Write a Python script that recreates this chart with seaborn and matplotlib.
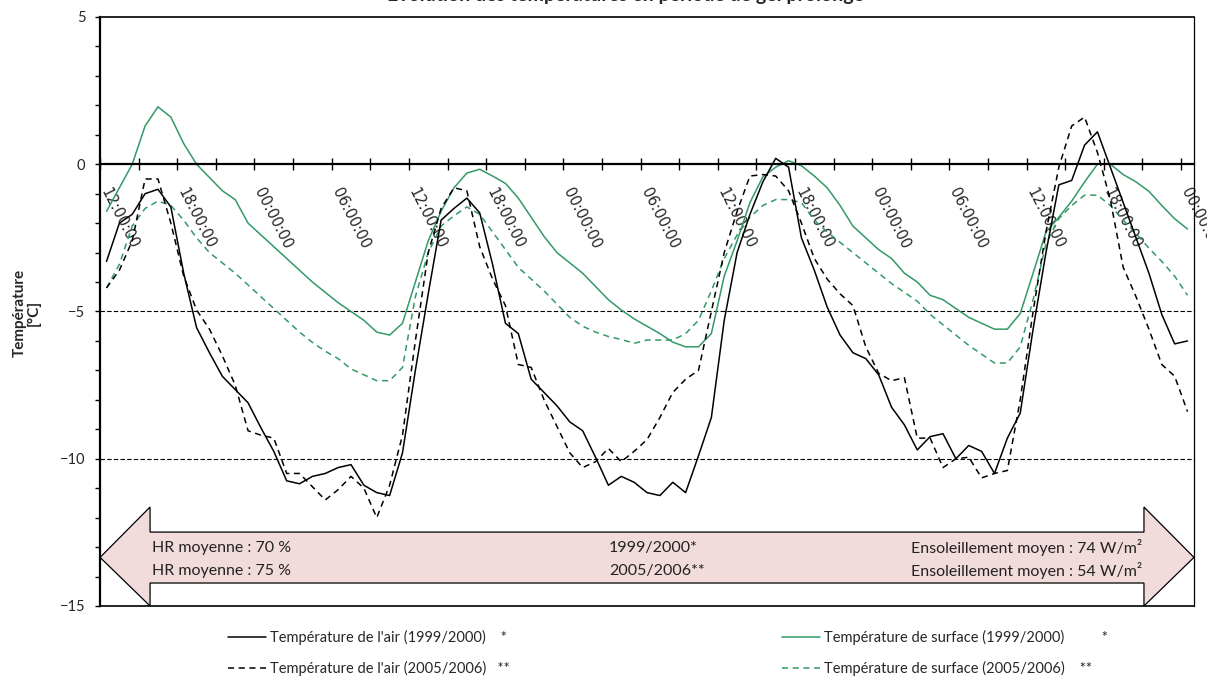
import numpy as np
import pandas as pd
import matplotlib
matplotlib.use("Agg")
import matplotlib.pyplot as plt
import matplotlib.transforms as mtransforms
from matplotlib.patches import Polygon
from matplotlib import font_manager
import seaborn as sns

# ---------------- data (hourly, starting 12:00:00) ----------------
air_1999 = [-3.3, -2.0, -1.7, -1.0, -0.85, -1.45, -3.7, -5.55, -6.4, -7.2,
            -7.65, -8.1, -8.95, -9.75, -10.75, -10.85, -10.6, -10.5, -10.3, -10.2,
            -10.9, -11.15, -11.25, -9.8, -7.0, -4.4, -1.9, -1.5, -1.15, -1.65,
            -3.4, -5.4, -5.75, -7.3, -7.75, -8.2, -8.75, -9.05, -9.95, -10.9,
            -10.6, -10.8, -11.15, -11.25, -10.8, -11.15, -9.9, -8.6, -5.3, -3.0,
            -1.7, -0.6, 0.2, -0.1, -2.5, -3.6, -4.85, -5.8, -6.4, -6.6,
            -7.15, -8.25, -8.85, -9.7, -9.25, -9.15, -10.0, -9.55, -9.75, -10.5,
            -9.3, -8.45, -5.6, -3.0, -0.7, -0.55, 0.65, 1.1, -0.1, -1.3,
            -2.5, -3.7, -5.1, -6.1, -6.0]
air_2005 = [-4.2, -3.6, -2.6, -0.5, -0.5, -2.0, -3.8, -4.95, -5.6, -6.5,
            -7.5, -9.05, -9.2, -9.3, -10.5, -10.5, -10.95, -11.4, -11.05, -10.6,
            -11.0, -12.0, -10.9, -9.2, -6.0, -3.0, -1.5, -0.8, -0.9, -2.8,
            -3.9, -4.8, -6.8, -6.9, -8.0, -8.9, -9.8, -10.3, -10.1, -9.65,
            -10.1, -9.75, -9.35, -8.6, -7.75, -7.3, -7.0, -5.0, -3.0, -1.6,
            -0.4, -0.35, -0.4, -0.9, -2.0, -3.2, -3.9, -4.4, -4.8, -6.2,
            -7.1, -7.35, -7.25, -9.3, -9.3, -10.3, -10.0, -9.95, -10.65, -10.5,
            -10.4, -8.0, -5.0, -2.3, -0.1, 1.3, 1.6, 0.4, -1.2, -3.5,
            -4.5, -5.6, -6.8, -7.2, -8.4]
surf_1999 = [-1.6, -0.8, 0.0, 1.3, 1.95, 1.6, 0.7, 0.0, -0.45, -0.9,
             -1.2, -2.0, -2.4, -2.8, -3.2, -3.6, -4.0, -4.35, -4.7, -5.0,
             -5.3, -5.7, -5.8, -5.4, -4.0, -2.6, -1.6, -0.8, -0.3, -0.17,
             -0.4, -0.65, -1.15, -1.8, -2.45, -3.0, -3.35, -3.7, -4.15, -4.6,
             -4.95, -5.25, -5.5, -5.75, -6.04, -6.2, -6.2, -5.75, -3.8, -2.6,
             -1.3, -0.43, -0.1, 0.12, -0.05, -0.4, -0.8, -1.4, -2.1, -2.5,
             -2.9, -3.2, -3.7, -4.0, -4.45, -4.6, -4.9, -5.2, -5.4, -5.6,
             -5.6, -5.07, -3.7, -2.3, -1.8, -1.25, -0.6, 0.0, 0.0, -0.35,
             -0.6, -0.92, -1.4, -1.85, -2.2]
surf_2005 = [-4.2, -3.4, -2.1, -1.5, -1.25, -1.4, -1.9, -2.5, -3.0, -3.35,
             -3.7, -4.1, -4.5, -4.9, -5.3, -5.7, -6.05, -6.35, -6.6, -6.95,
             -7.15, -7.35, -7.35, -6.9, -4.5, -3.0, -2.1, -1.75, -1.45, -1.7,
             -2.3, -2.9, -3.5, -3.9, -4.3, -4.75, -5.2, -5.5, -5.7, -5.85,
             -5.95, -6.08, -5.97, -5.97, -5.97, -5.75, -5.3, -4.3, -3.2, -2.4,
             -1.8, -1.4, -1.2, -1.2, -1.3, -1.9, -2.3, -2.65, -3.0, -3.35,
             -3.7, -4.05, -4.35, -4.65, -5.1, -5.45, -5.8, -6.15, -6.45, -6.75,
             -6.75, -6.2, -4.6, -2.7, -1.85, -1.4, -1.05, -1.05, -1.4, -1.9,
             -2.35, -2.85, -3.3, -3.8, -4.45]

time_labels = ["12:00:00", "18:00:00", "00:00:00", "06:00:00",
               "12:00:00", "18:00:00", "00:00:00", "06:00:00",
               "12:00:00", "18:00:00", "00:00:00", "06:00:00",
               "12:00:00", "18:00:00", "00:00:00"]

series_labels = ["Température de l'air (1999/2000)    *",
                 "Température de l'air (2005/2006)   **",
                 "Température de surface (1999/2000)          *",
                 "Température de surface (2005/2006)    **"]

hr_texts = ["HR moyenne : 70 %", "HR moyenne : 75 %"]
period_texts = ["1999/2000*", "2005/2006**"]
sun_texts = ["Ensoleillement moyen : 74 W/m²", "Ensoleillement moyen : 54 W/m²"]

title_text = "Évolution des températures en période de gel prolongé"

# ---------------- style ----------------
sns.set_theme(style="white")


def pick(*names):
    for n in names:
        try:
            font_manager.findfont(n, fallback_to_default=False)
            return n
        except Exception:
            continue
    return "DejaVu Sans"


main_font = pick("Lato", "Open Sans", "DejaVu Sans")
narrow_font = pick("Liberation Sans Narrow", "Lato")
plt.rcParams["font.family"] = [main_font, "DejaVu Sans"]

GREEN = "#339966"
DASH = (0, (4, 3))

fig = plt.figure(figsize=(12.07, 6.77), dpi=100)
ax = fig.add_axes([0.0829, 0.1049, 0.9063, 0.8700])

n = len(air_1999)
df = pd.DataFrame({
    "pos": np.arange(n) + 0.5,
    "air_1999": air_1999,
    "air_2005": air_2005,
    "surf_1999": surf_1999,
    "surf_2005": surf_2005,
})

sns.lineplot(data=df, x="pos", y="air_1999", ax=ax, color="black", lw=1.1,
             label=series_labels[0], legend=False, zorder=4)
sns.lineplot(data=df, x="pos", y="air_2005", ax=ax, color="black", lw=1.1,
             linestyle=DASH, label=series_labels[1], legend=False, zorder=4)
sns.lineplot(data=df, x="pos", y="surf_1999", ax=ax, color=GREEN, lw=1.1,
             label=series_labels[2], legend=False, zorder=3)
sns.lineplot(data=df, x="pos", y="surf_2005", ax=ax, color=GREEN, lw=1.1,
             linestyle=DASH, label=series_labels[3], legend=False, zorder=3)

ax.set_xlim(0, n)
ax.set_ylim(-15, 5)
ax.set_xlabel("")
ax.set_ylabel("")

# x axis at y = 0
ax.spines["bottom"].set_position(("data", 0))
ax.spines["bottom"].set_linewidth(1.6)
ax.spines["bottom"].set_zorder(5)
ax.spines["left"].set_linewidth(1.6)
ax.spines["top"].set_linewidth(1.2)
ax.spines["right"].set_linewidth(0.9)
for s in ax.spines.values():
    s.set_color("black")
ax.axhline(-15, color="black", lw=1.2, clip_on=False, zorder=5)

major_pos = np.arange(0, n, 6)
ax.set_xticks(major_pos)
ax.set_xticks(np.arange(3, n, 6), minor=True)
ax.set_xticklabels(time_labels, rotation=-63, ha="left", va="baseline",
                   rotation_mode="anchor", fontsize=10.5,
                   family=["DejaVu Sans"])
ax.tick_params(axis="x", which="both", direction="inout", length=8,
               width=1.0, color="black", bottom=True)
ax.tick_params(axis="x", which="major", pad=15)

ax.set_yticks(np.arange(-15, 6, 5))
ax.set_yticks(np.arange(-15, 6, 1), minor=True)
ax.tick_params(axis="y", which="both", direction="out", length=3.5,
               width=1.0, color="black", left=True, labelsize=10.5, pad=7)

# dashed horizontal grid lines
for yv in (-5, -10):
    ax.axhline(yv, color="black", lw=0.8, ls=(0, (4, 2)), zorder=1)

# y label
fig.text(27 / 1207, 1 - 313 / 677, "Température\n[°C]", rotation=90,
         ha="center", va="center", fontsize=11, fontweight="bold",
         multialignment="center", linespacing=1.0)

# title (clipped at top like the reference)
fig.text(0.518, 1 - 1.0 / 677, title_text, ha="center", va="baseline",
         fontsize=14, fontweight="bold")

# double arrow banner
trans = mtransforms.blended_transform_factory(ax.transAxes, ax.transData)
h = 50 / 1094
verts = [(0, -13.35), (h, -11.64), (h, -12.49), (1 - h, -12.49), (1 - h, -11.64),
         (1, -13.35), (1 - h, -15.0), (1 - h, -14.22), (h, -14.22), (h, -15.0)]
arrow = Polygon(verts, closed=True, transform=trans, facecolor="#F2DCDB",
                edgecolor="black", lw=0.9, zorder=2, clip_on=False)
ax.add_patch(arrow)

rows_y = [-13.03, -13.81]
for k in range(2):
    ax.text(0.0475, rows_y[k], hr_texts[k], transform=trans, ha="left",
            va="center", fontsize=11.5, color="#222222", zorder=6)
    ax.text(0.465, rows_y[k], period_texts[k], transform=trans, ha="left",
            va="center", fontsize=11.5, color="#222222", zorder=6)
    ax.text(0.953, rows_y[k], sun_texts[k], transform=trans, ha="right",
            va="center", fontsize=11.5, color="#222222", zorder=6)

# legends (two columns)
lines = ax.get_lines()
leg_kw = dict(frameon=False, borderpad=0, borderaxespad=0, handlelength=2.6,
              handletextpad=0.3, labelspacing=1.1,
              prop={"family": narrow_font, "size": 10.5}, loc="upper left")
leg1 = fig.legend(handles=[lines[0], lines[1]], labels=series_labels[:2],
                  bbox_to_anchor=(228 / 1207, 1 - 630 / 677), **leg_kw)
leg2 = fig.legend(handles=[lines[2], lines[3]], labels=series_labels[2:],
                  bbox_to_anchor=(782 / 1207, 1 - 630 / 677), **leg_kw)

fig.savefig("out.png", dpi=100)
